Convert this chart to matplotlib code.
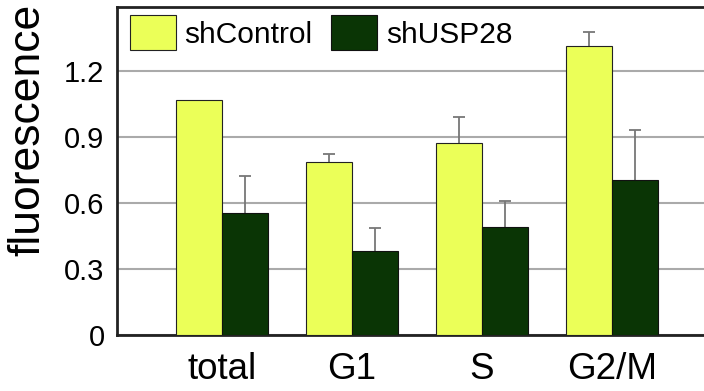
import numpy as np
import matplotlib
matplotlib.use("Agg")
import matplotlib.pyplot as plt

plt.rcParams['font.family'] = ['Liberation Sans', 'DejaVu Sans']

# values
phases = ['total', 'G1', 'S', 'G2/M']
sh_control = [1.068, 0.786, 0.874, 1.312]
sh_control_err = [np.nan, 0.035, 0.117, 0.067]
sh_usp28 = [0.553, 0.382, 0.489, 0.705]
sh_usp28_err = [0.170, 0.106, 0.121, 0.227]
yticks = [0, 0.3, 0.6, 0.9, 1.2]
ytick_labels = ['0', '0.3', '0.6', '0.9', '1.2']

yellow = '#ebff58'
dark = '#0a3505'
err_col = '#777777'

fig = plt.figure(figsize=(7.04, 3.91), dpi=100)
ax = fig.add_axes([117 / 704, 56 / 391, 587 / 704, 328 / 391])

x = np.arange(len(phases))
w = 0.354

ax.bar(x - w / 2, sh_control, w, color=yellow, edgecolor='#222222', linewidth=0.8,
       label='shControl', zorder=3)
ax.bar(x + w / 2, sh_usp28, w, color=dark, edgecolor='#111111', linewidth=0.8,
       label='shUSP28', zorder=3)

# upward-only error bars (lower caps hidden)
for xs, vals, errs in [(x - w / 2, sh_control, sh_control_err),
                       (x + w / 2, sh_usp28, sh_usp28_err)]:
    errs = np.array(errs, dtype=float)
    ok = ~np.isnan(errs)
    eb = ax.errorbar(xs[ok], np.array(vals)[ok],
                     yerr=[np.zeros(ok.sum()), errs[ok]],
                     fmt='none', ecolor=err_col, elinewidth=1.3, capsize=4.3,
                     capthick=1.3, zorder=2)
    caps = eb[1]
    if len(caps) == 2:
        caps[0].set_visible(False)

ax.set_xlim(-0.808, 3.708)
ax.set_ylim(0, 1.491)
ax.set_yticks(yticks)
ax.set_yticklabels(ytick_labels, fontsize=21)
ax.set_xticks(x)
ax.set_xticklabels(phases, fontsize=26.5)
ax.tick_params(axis='both', length=0)
ax.tick_params(axis='y', pad=9)
ax.tick_params(axis='x', pad=12)

ax.yaxis.grid(True, color='#aaaaaa', linewidth=1.5)
ax.set_axisbelow(True)

for s in ['top', 'left', 'bottom']:
    ax.spines[s].set_linewidth(2)
    ax.spines[s].set_color('#222222')
ax.spines['right'].set_visible(False)

fig.text(28 / 704, 1 - 130 / 391, 'fluorescence', rotation=90, fontsize=32,
         ha='center', va='center')

ax.legend(loc='upper left', bbox_to_anchor=(0.022, 0.975), ncol=2, frameon=False,
          fontsize=21.5, handlelength=1.53, handleheight=1.43,
          handletextpad=0.3, columnspacing=0.63, borderpad=0, borderaxespad=0)

fig.savefig('out.png', dpi=100)
